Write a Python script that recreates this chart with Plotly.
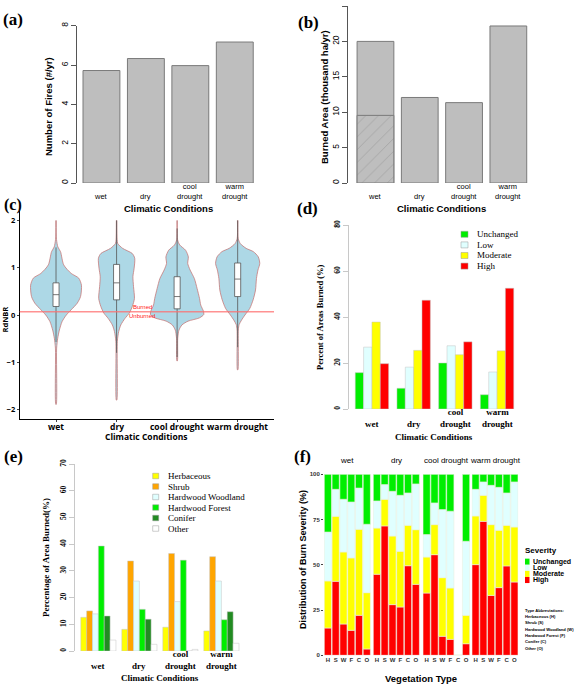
import plotly.graph_objects as go

W, H = 576, 684

ARIAL = "Liberation Sans, Arial, sans-serif"
TIMES = "Liberation Serif, Times New Roman, serif"
OPEN = "Open Sans, sans-serif"

# ---------------- data ----------------
conditions = ["wet", "dry", "cool drought", "warm drought"]
condition_labels = ["wet", "dry", "cool<br>drought", "warm<br>drought"]

# (a) number of fires per year
fires_per_year = [5.72, 6.33, 5.97, 7.17]

# (b) burned area (thousand ha/yr); hatched part only on the wet bar
burned_area = [20.0, 12.08, 11.35, 22.18]
burned_area_hatched = [9.55, None, None, None]

# (c) RdNBR violins: outline levels and half widths (category units)
wet_y = [2.0, 1.6, 1.44, 1.34, 1.06, 0.88, 0.78, 0.63, 0.39, 0.25, 0.11, 0.0, -0.14, -0.32, -0.49, -0.7, -1.89]
wet_w = [0.004, 0.008, 0.03, 0.074, 0.127, 0.25, 0.375, 0.42, 0.405, 0.35, 0.25, 0.17, 0.10, 0.055, 0.028, 0.01, 0.004]
dry_y = [2.0, 1.6, 1.51, 1.41, 1.3, 1.2, 0.99, 0.81, 0.6, 0.35, 0.18, 0.04, -0.07, -0.21, -0.35, -0.56, -1.8]
dry_w = [0.004, 0.008, 0.02, 0.1, 0.26, 0.30, 0.29, 0.27, 0.28, 0.295, 0.26, 0.21, 0.14, 0.07, 0.035, 0.012, 0.004]
cool_y = [2.0, 1.59, 1.48, 1.37, 1.23, 1.09, 0.95, 0.77, 0.56, 0.35, 0.21, 0.08, 0.01, -0.06, -0.13, -0.21, -0.32, -0.49, -0.97]
cool_w = [0.004, 0.008, 0.044, 0.14, 0.185, 0.175, 0.215, 0.285, 0.33, 0.37, 0.39, 0.435, 0.44, 0.37, 0.18, 0.08, 0.03, 0.01, 0.004]
warm_y = [2.0, 1.62, 1.51, 1.41, 1.34, 1.23, 1.09, 0.95, 0.77, 0.53, 0.32, 0.14, 0.0, -0.11, -0.2, -0.32, -1.16]
warm_w = [0.004, 0.008, 0.044, 0.14, 0.26, 0.34, 0.365, 0.335, 0.31, 0.295, 0.255, 0.2, 0.12, 0.063, 0.025, 0.01, 0.004]

rdnbr_q1 = [0.18, 0.32, 0.13, 0.39]
rdnbr_median = [0.43, 0.68, 0.39, 0.76]
rdnbr_q3 = [0.68, 1.07, 0.81, 1.10]
rdnbr_lower = [-0.57, -0.80, -0.89, -0.68]
rdnbr_upper = [1.43, 2.0, 1.83, 2.0]
burn_threshold = 0.07

# (d) percent of area burned by severity
severity_classes = ["Unchanged", "Low", "Moderate", "High"]
severity_colors = ["#00ee00", "#e0ffff", "#ffff00", "#ff0000"]
sev_unchanged = [15.8, 9.0, 20.0, 6.2]
sev_low = [26.9, 18.2, 27.5, 16.1]
sev_moderate = [37.8, 25.5, 23.6, 25.3]
sev_high = [19.7, 47.3, 29.2, 52.5]

# (e) percentage of area burned by vegetation type
veg_types = ["Herbaceous", "Shrub", "Hardwood Woodland", "Hardwood Forest", "Conifer", "Other"]
veg_abbrev = ["H", "S", "W", "F", "C", "O"]
veg_colors = ["#ffff00", "#ffa500", "#e0ffff", "#00ee00", "#228b22", "#ffffff"]
veg_herb = [12.6, 8.1, 8.9, 7.5]
veg_shrub = [15.0, 33.7, 36.5, 35.3]
veg_hw_woodland = [13.9, 26.2, 18.5, 26.2]
veg_hw_forest = [39.3, 15.6, 34.0, 11.7]
veg_conifer = [13.1, 11.9, 0.0, 14.7]
veg_other = [4.1, 2.5, 0.6, 2.9]

# (f) distribution of burn severity per vegetation type (rows = conditions)
f_high = [[15.1, 40.9, 17.3, 13.8, 22.1, 3.5],
          [44.8, 71.5, 28.0, 26.7, 49.5, 39.2],
          [34.4, 55.6, 10.5, 8.8, 0.0, 6.4],
          [50.1, 74.0, 33.1, 37.4, 49.4, 40.5]]
f_moderate = [[26.0, 35.9, 39.8, 40.0, 47.5, 31.1],
              [25.5, 14.7, 37.9, 30.8, 22.3, 30.2],
              [19.9, 16.6, 32.4, 28.4, 0.0, 15.7],
              [26.9, 14.4, 39.1, 31.7, 22.4, 30.4]]
f_low = [[27.0, 14.9, 29.1, 30.9, 22.8, 37.8],
         [15.0, 8.1, 24.7, 30.9, 17.9, 25.3],
         [12.4, 12.0, 37.6, 42.4, 0.0, 40.9],
         [14.7, 7.4, 21.7, 23.7, 17.9, 24.9]]
f_unchanged = [[31.9, 8.3, 13.8, 15.3, 7.6, 27.6],
               [14.7, 5.7, 9.4, 11.6, 10.3, 5.3],
               [33.3, 15.8, 19.5, 20.4, 0.0, 37.0],
               [8.3, 4.2, 6.1, 7.2, 10.3, 4.2]]


def dom_x(x0, x1):
    return [x0 / W, x1 / W]


def dom_y(ybot, ytop):
    return [1 - ybot / H, 1 - ytop / H]


fig = go.Figure()
annotations = []
shapes = []


def note(text, x, y, size, family=ARIAL, angle=0, xanchor="center", yanchor="middle",
         color="black", xref="paper", yref="paper", weight=None):
    if xref == "paper":
        x = x / W
    if yref == "paper":
        y = 1 - y / H
    font = dict(family=family, size=size, color=color)
    if weight:
        font["weight"] = weight
    annotations.append(dict(text=text, x=x, y=y, xref=xref, yref=yref, showarrow=False,
                            textangle=angle, xanchor=xanchor, yanchor=yanchor, font=font))
    return annotations[-1]


GRAY = "#bebebe"
EDGE = "#7a7a7a"

# ---- (a) ----
fig.add_trace(go.Bar(x=conditions, y=fires_per_year, width=0.83, offset=-0.415,
                     marker=dict(color=GRAY, line=dict(color=EDGE, width=1)),
                     xaxis="x", yaxis="y", showlegend=False))

# ---- (b) ----
fig.add_trace(go.Bar(x=conditions, y=burned_area, width=0.83, offset=-0.415,
                     marker=dict(color=GRAY, line=dict(color=EDGE, width=1)),
                     xaxis="x2", yaxis="y2", showlegend=False))
fig.add_trace(go.Bar(x=conditions, y=burned_area_hatched, width=0.83, offset=-0.415,
                     marker=dict(color=GRAY, line=dict(color=EDGE, width=1),
                                 pattern=dict(shape="/", fgcolor="#8a8a8a", size=9, solidity=0.1)),
                     xaxis="x2", yaxis="y2", showlegend=False))

# ---- (c) ----
violins = [(wet_y, wet_w), (dry_y, dry_w), (cool_y, cool_w), (warm_y, warm_w)]
for i, (ys, ws) in enumerate(violins):
    pos = i + 1
    xs = [pos + w for w in ws] + [pos - w for w in ws[::-1]]
    yy = ys + ys[::-1]
    fig.add_trace(go.Scatter(x=xs, y=yy, mode="lines", fill="toself", fillcolor="#add8e6",
                             line=dict(color="#c77a7a", width=0.8, shape="spline", smoothing=0.7),
                             xaxis="x3", yaxis="y3", showlegend=False, hoverinfo="skip"))
# boxes sit on an overlaying axis pair so they are drawn above the violins
fig.add_trace(go.Box(x=[1, 2, 3, 4], q1=rdnbr_q1, median=rdnbr_median, q3=rdnbr_q3,
                     lowerfence=rdnbr_lower, upperfence=rdnbr_upper, width=0.1,
                     fillcolor="white", line=dict(color="#555555", width=0.8), whiskerwidth=0,
                     boxpoints=False, xaxis="x10", yaxis="y10", showlegend=False))
shapes.append(dict(type="line", xref="x3 domain", x0=0, x1=1, yref="y3", y0=burn_threshold, y1=burn_threshold,
                   line=dict(color="rgba(255,110,110,0.75)", width=1.5)))
note("Burned", 2.42, burn_threshold, 6, color="#ff2020", xref="x3", yref="y3")["yshift"] = 5
note("Unburned", 2.42, burn_threshold, 6, color="#ff2020", xref="x3", yref="y3")["yshift"] = -4

# ---- (d) ----
sev_series = [sev_unchanged, sev_low, sev_moderate, sev_high]
for i, (vals, col) in enumerate(zip(sev_series, severity_colors)):
    fig.add_trace(go.Bar(x=conditions, y=vals, width=0.2, offset=-0.4 + 0.2 * i, name=severity_classes[i],
                         marker=dict(color=col, line=dict(color="#c4c4c4", width=0.5)),
                         xaxis="x4", yaxis="y4", showlegend=False))

# ---- (e) ----
veg_series = [veg_herb, veg_shrub, veg_hw_woodland, veg_hw_forest, veg_conifer, veg_other]
for i, (vals, col) in enumerate(zip(veg_series, veg_colors)):
    fig.add_trace(go.Bar(x=conditions, y=vals, width=1 / 7, offset=-3 / 7 + i / 7, name=veg_types[i],
                         marker=dict(color=col, line=dict(color="#c4c4c4", width=0.5)),
                         xaxis="x5", yaxis="y5", showlegend=False))

# ---- (f) ----
stack_order = [(f_high, "#ff0000"), (f_moderate, "#ffff00"), (f_low, "#e0ffff"), (f_unchanged, "#00ee00")]
for c in range(4):
    base = [0.0] * len(veg_abbrev)
    for vals_all, col in stack_order:
        vals = vals_all[c]
        fig.add_trace(go.Bar(x=veg_abbrev, y=vals, base=base, width=0.92, offset=-0.46,
                             marker=dict(color=col, line=dict(color="#eaf0e0", width=0.6)),
                             xaxis="x%d" % (6 + c), yaxis="y%d" % (6 + c), showlegend=False))
        base = [b + v for b, v in zip(base, vals)]

# ---------------- axes ----------------
layout = dict(width=W, height=H, autosize=False, margin=dict(l=0, r=0, t=0, b=0, pad=0),
              paper_bgcolor="white", plot_bgcolor="white", showlegend=False)


def cat_x(domain, rng, anchor):
    return dict(domain=domain, range=rng, anchor=anchor, type="category", showgrid=False, zeroline=False,
                showline=False, ticks="", showticklabels=False, automargin=False)


def val_y(domain, rng, anchor, dtick, family, size, linecolor, weight=None):
    font = dict(family=family, size=size, color="black")
    if weight:
        font["weight"] = weight
    return dict(domain=domain, range=rng, anchor=anchor, showgrid=False, zeroline=False,
                showline=True, linecolor=linecolor, linewidth=1, ticks="outside", ticklen=5,
                tickcolor=linecolor, dtick=dtick, tick0=0, tickangle=-90, tickfont=font, automargin=False)


def cond_labels(xref, y, size, family, labels=condition_labels, weight=None, yanchor="bottom"):
    # category labels under a chart, bottom-aligned like R's barplot names
    for cond, lab in zip(conditions, labels):
        note(lab, cond, y, size, family, xref=xref, yanchor=yanchor, weight=weight)


layout["xaxis"] = cat_x(dom_x(77, 257), [-0.55, 3.5], "y")
layout["yaxis"] = val_y(dom_y(183, 25.7), [0, 8], "x", 2, ARIAL, 8.5, "#555555")
layout["xaxis2"] = cat_x(dom_x(348, 530.5), [-0.62, 3.5], "y2")
layout["yaxis2"] = val_y(dom_y(183, 6), [0, 25], "x2", 5, ARIAL, 8.5, "#555555")
cond_labels("x", 203, 7.5, ARIAL)
cond_labels("x2", 203, 7.5, ARIAL)

layout["xaxis3"] = dict(domain=dom_x(19.7, 274), range=[0.4, 4.6], anchor="y3", showgrid=False, zeroline=False,
                        showline=True, linecolor="black", linewidth=1, ticks="outside", ticklen=2,
                        tickvals=[1, 2, 3, 4], showticklabels=False, automargin=False)
layout["yaxis3"] = dict(domain=dom_y(419, 211), range=[-2.2, 2.2], anchor="x3", showgrid=False, zeroline=False,
                        showline=True, linecolor="black", linewidth=1, ticks="outside", ticklen=2,
                        tickvals=[-2, -1, 0, 1, 2], automargin=False,
                        tickfont=dict(family=OPEN, size=7.5, color="black", weight=700))
layout["xaxis10"] = dict(overlaying="x3", range=[0.4, 4.6], visible=False, anchor="y10")
layout["yaxis10"] = dict(overlaying="y3", range=[-2.2, 2.2], visible=False, anchor="x10")
for k, cond in enumerate(conditions):
    note(cond, k + 1, 426, 8.5, OPEN, xref="x3", weight=700)

layout["xaxis4"] = cat_x(dom_x(349, 520), [-0.55, 3.55], "y4")
layout["yaxis4"] = val_y(dom_y(409, 225), [0, 80], "x4", 20, TIMES, 7.5, "#c8c8c8", 700)
cond_labels("x4", 431, 9, TIMES, weight=700)
layout["xaxis5"] = cat_x(dom_x(75, 246), [-0.57, 3.6], "y5")
layout["yaxis5"] = val_y(dom_y(651, 464), [0, 70], "x5", 10, TIMES, 7.5, "#c8c8c8", 700)
cond_labels("x5", 673, 9, TIMES, weight=700)

facet_px = [(324, 370.7), (373, 419.7), (422.7, 470), (471.7, 518.3)]
for c, (x0, x1) in enumerate(facet_px):
    n = 6 + c
    layout["xaxis%d" % n] = dict(domain=dom_x(x0, x1), range=[-0.5, 5.5], anchor="y%d" % n, type="category",
                                 showgrid=False, zeroline=False, showline=False, ticks="", automargin=False,
                                 tickfont=dict(family=ARIAL, size=6, color="#333333", weight=700))
    layout["yaxis%d" % n] = dict(domain=dom_y(655.3, 474.3), range=[0, 100], anchor="x%d" % n,
                                 showgrid=False, zeroline=False, showline=False, automargin=False,
                                 ticks="outside" if c == 0 else "", ticklen=2, tickcolor="#444444",
                                 tickvals=[0, 25, 50, 75, 100], showticklabels=(c == 0),
                                 tickfont=dict(family=ARIAL, size=6, color="#333333", weight=700))
    note(conditions[c], (x0 + x1) / 2, 461, 8)

# ---------------- titles and labels ----------------
note("<b>(a)</b>", 13, 20, 17, TIMES)
note("<b>(b)</b>", 308, 23, 17, TIMES)
note("<b>(c)</b>", 13, 205, 16, TIMES)
note("<b>(d)</b>", 307, 208, 17, TIMES)
note("<b>(e)</b>", 13, 456, 17, TIMES)
note("<b>(f)</b>", 302, 456, 17, TIMES)

note("<b>Number of Fires (#/yr)</b>", 48, 107, 9.5, angle=-90)
note("<b>Climatic Conditions</b>", 168, 208, 9.5)
note("<b>Burned Area (thousand ha/yr)</b>", 324, 97, 9.5, angle=-90)
note("<b>Climatic Conditions</b>", 441, 208, 9.5)

note("RdNBR", 4.5, 320, 7.5, OPEN, angle=-90, weight=700)
note("Climatic Conditions", 146, 436, 8.5, OPEN, weight=700)

note("<b>Percent of Areas Burned (%)</b>", 320, 317, 8.5, TIMES, angle=-90)
note("<b>Climatic Conditions</b>", 434, 437, 9, TIMES)
note("<b>Percentage of Area Burned(%)</b>", 46, 558, 9, TIMES, angle=-90)
note("<b>Climatic Conditions</b>", 160, 678, 9, TIMES)

note("<b>Distribution of Burn Severity (%)</b>", 303, 560, 9, angle=-90)
note("<b>Vegetation Type</b>", 421, 678, 9.5)


# ---------------- hand-drawn legends ----------------
def legend_rect(x0, x1, yc, h, color, line=True):
    shapes.append(dict(type="rect", xref="paper", yref="paper", x0=x0 / W, x1=x1 / W,
                       y0=1 - (yc + h / 2) / H, y1=1 - (yc - h / 2) / H, fillcolor=color,
                       line=dict(color="#9a9a9a", width=0.5 if line else 0)))


for i, (name, col) in enumerate(zip(severity_classes, severity_colors)):
    yc = 234.3 + 10.6 * i
    legend_rect(461, 468, yc, 6, col)
    note(name, 475, yc, 9, TIMES, xanchor="left")

for i, (name, col) in enumerate(zip(veg_types, veg_colors)):
    yc = 476 + 10.5 * i
    legend_rect(152.7, 158.7, yc, 5.5, col)
    note(name, 166, yc, 9, TIMES, xanchor="left")

note("<b>Severity</b>", 523, 550, 8, xanchor="left")
for i, (name, col) in enumerate(zip(severity_classes, severity_colors)):
    yc = 561.7 + 6.1 * i
    legend_rect(525, 529.5, yc, 6.1, col, line=False)
    note("<b>%s</b>" % name, 531, yc, 7, xanchor="left")

note("<b>Type Abbreviations:</b>", 523, 610, 4.1, xanchor="left")
for i, (name, ab) in enumerate(zip(veg_types, veg_abbrev)):
    note("<b>%s (%s)</b>" % (name, ab), 523, 616.3 + 6.4 * i, 4.1, xanchor="left")

layout["annotations"] = annotations
layout["shapes"] = shapes
fig.update_layout(**layout)

fig.write_html("out.html", config={"displayModeBar": False},
               post_script="document.body.style.margin='0px';")
